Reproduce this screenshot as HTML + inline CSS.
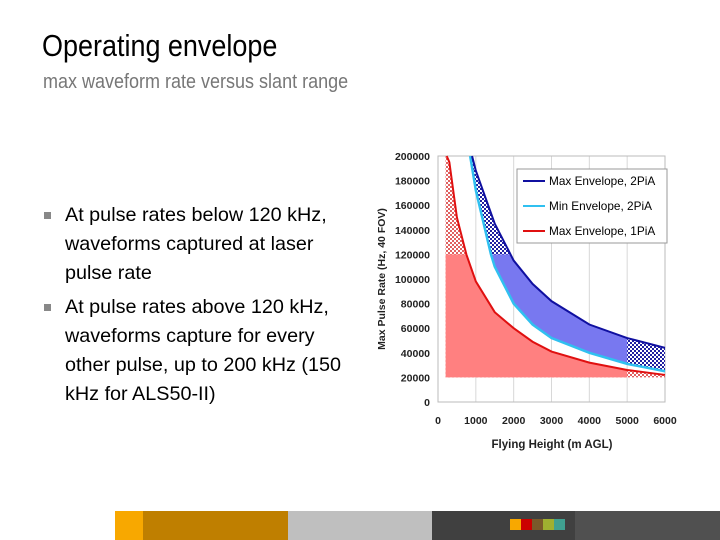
<!DOCTYPE html>
<html><head><meta charset="utf-8"><style>
body{margin:0;width:720px;height:540px;background:#fff;position:relative;overflow:hidden;font-family:"Liberation Sans",sans-serif}
.t{position:absolute;white-space:nowrap;transform-origin:0 0}
#title{left:42px;top:28px;font-size:31px;color:#000;transform:scaleX(0.87)}
#sub{left:43px;top:71px;font-size:20px;color:#777;transform:scaleX(0.9)}
#bul{position:absolute;left:44px;top:201px;font-size:19.8px;line-height:29px;color:#000}
.b{position:relative;padding-left:21px}
.b:before{content:"";position:absolute;left:0;top:11px;width:7px;height:7px;background:#888}
.gap{margin-top:5px}
.seg{position:absolute;top:511px;height:29px}
.sq{position:absolute;top:519px;width:11px;height:11px}
</style></head><body>
<div class="t" id="title">Operating envelope</div>
<div class="t" id="sub">max waveform rate versus slant range</div>
<div id="bul">
<div class="b">At pulse rates below 120 kHz,<br>waveforms captured at laser<br>pulse rate</div>
<div class="b gap">At pulse rates above 120 kHz,<br>waveforms capture for every<br>other pulse, up to 200 kHz (150<br>kHz for ALS50-II)</div>
</div>
<div class="seg" style="left:115px;width:28px;background:#f8a800"></div>
<div class="seg" style="left:143px;width:145px;background:#bf7f00"></div>
<div class="seg" style="left:288px;width:144px;background:#bfbfbf"></div>
<div class="seg" style="left:432px;width:143px;background:#404040"></div>
<div class="seg" style="left:575px;width:145px;background:#505050"></div>
<div class="sq" style="left:510px;background:#f8a800"></div>
<div class="sq" style="left:521px;background:#cc0000"></div>
<div class="sq" style="left:532px;background:#7a5a2a"></div>
<div class="sq" style="left:543px;background:#a0b030"></div>
<div class="sq" style="left:554px;background:#40a090"></div>

<svg id="chart" width="720" height="540" style="position:absolute;left:0;top:0">
<defs>
<pattern id="hr" width="4" height="4" patternUnits="userSpaceOnUse"><rect width="4" height="4" fill="#fff"/><rect width="2" height="2" fill="#e06060"/><rect x="2" y="2" width="2" height="2" fill="#e06060"/></pattern>
<pattern id="hb" width="4" height="4" patternUnits="userSpaceOnUse"><rect width="4" height="4" fill="#fff"/><rect width="2" height="2" fill="#2020a0"/><rect x="2" y="2" width="2" height="2" fill="#2020a0"/></pattern>
</defs>
</svg>
<script>
const xTicks=[0,1000,2000,3000,4000,5000,6000];
const yTicks=[0,20000,40000,60000,80000,100000,120000,140000,160000,180000,200000];
const maxX2=[900,1000,1500,2000,2500,3000,4000,5000,6000];
const maxY2=[200000,188000,145000,115000,96000,82000,63000,52000,44000];
const minX2=[850,1000,1400,1500,2000,2500,3000,4000,5000,6000];
const minY2=[200000,172000,120000,110000,80000,63000,52000,40000,31000,25000];
const maxX1=[230,300,500,750,1000,1500,2000,2500,3000,4000,5000,6000];
const maxY1=[200000,195000,150000,120000,98000,73000,60000,49000,41000,32000,26000,22000];
const floorY=20000, splitY=120000, startX=200, splitX=5000;
const X0=438,X1=665,Y0=402,Y1=156;
const sx=v=>X0+(X1-X0)*v/6000, sy=v=>Y0-(Y0-Y1)*v/200000;
const svg=document.getElementById('chart'),NS='http://www.w3.org/2000/svg';
function mk(t,a,p){const e=document.createElementNS(NS,t);for(const k in a)e.setAttribute(k,a[k]);(p||svg).appendChild(e);return e;}
const pts=(xs,ys)=>xs.map((x,i)=>sx(x)+','+sy(ys[i]));
xTicks.forEach(v=>{const g=mk('line',{x1:sx(v),x2:sx(v),y1:Y1,y2:Y0,stroke:'#d8d8d8'});
});
const fr=mk('rect',{x:X0,y:Y1,width:X1-X0,height:Y0-Y1,fill:'none',stroke:'#bbb'});

const cp=mk('clipPath',{id:'solid'},svg.querySelector('defs'));
mk('rect',{x:sx(startX),y:sy(splitY),width:sx(splitX)-sx(startX),height:sy(0)-sy(splitY)},cp);
const redPoly=pts(maxX1,maxY1).concat([sx(6000)+','+sy(floorY),sx(startX)+','+sy(floorY),sx(startX)+','+sy(200000)]).join(' ');
const rh=mk('polygon',{points:redPoly,fill:'url(#hr)'});
const rs=mk('polygon',{points:redPoly,fill:'#ff8080','clip-path':'url(#solid)'});
const band=pts(maxX2,maxY2).concat(pts(minX2,minY2).reverse()).join(' ');
const bh=mk('polygon',{points:band,fill:'url(#hb)'});
const bs=mk('polygon',{points:band,fill:'#7878f0','clip-path':'url(#solid)'});
const l1=mk('polyline',{points:pts(minX2,minY2).join(' '),fill:'none',stroke:'#30c0f0','stroke-width':2.5});
const l2=mk('polyline',{points:pts(maxX2,maxY2).join(' '),fill:'none',stroke:'#1010a0','stroke-width':2});
const l3=mk('polyline',{points:pts(maxX1,maxY1).join(' '),fill:'none',stroke:'#e01010','stroke-width':2});
yTicks.forEach(v=>{const t=mk('text',{x:X0-8,y:sy(v)+4,'text-anchor':'end','font-size':10.5,'font-weight':'bold',fill:'#222'});t.textContent=v;
});
xTicks.forEach(v=>{const t=mk('text',{x:sx(v),y:424,'text-anchor':'middle','font-size':10.5,'font-weight':'bold',fill:'#222'});t.textContent=v;
});
const xt=mk('text',{x:552,y:448,'text-anchor':'middle','font-size':11.5,'font-weight':'bold',fill:'#222'});xt.textContent='Flying Height (m AGL)';

const yt=mk('text',{x:0,y:0,'text-anchor':'middle','font-size':10.5,'font-weight':'bold',fill:'#222',transform:'translate(385,279) rotate(-90)'});yt.textContent='Max Pulse Rate (Hz, 40 FOV)';

const lg=mk('rect',{x:517,y:169,width:150,height:74,fill:'#fff',stroke:'#999'});
[['Max Envelope, 2PiA','#1010a0'],['Min Envelope, 2PiA','#30c0f0'],['Max Envelope, 1PiA','#e01010']].forEach((d,i)=>{
const y=181+i*25;
const ln=mk('line',{x1:523,x2:545,y1:y,y2:y,stroke:d[1],'stroke-width':2});
const t=mk('text',{x:549,y:y+4,'font-size':11.8,fill:'#000'});t.textContent=d[0];});
</script>
</body></html>
